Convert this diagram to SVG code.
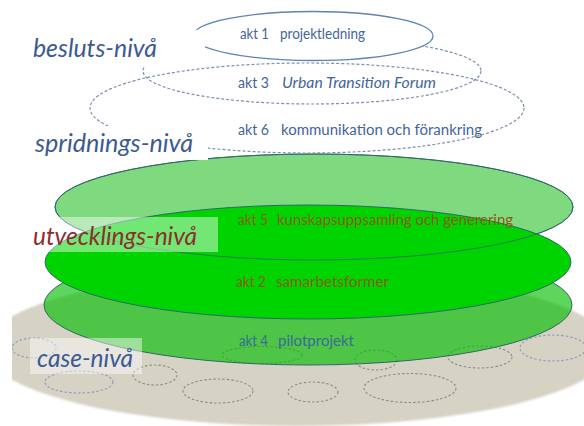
<svg xmlns="http://www.w3.org/2000/svg" width="584" height="426" viewBox="0 0 584 426">
<style>
.lvl{font-family:Lato,"Liberation Sans",sans-serif;font-style:italic;font-size:25px;fill:#3b5a94}
.akt{font-family:Lato,"Liberation Sans",sans-serif;font-size:14.5px}
.blue{fill:#44659c}
.brown{fill:#8a5c12}
.teal{fill:#3a6a96}
.dash{fill:none;stroke:#7d8fae;stroke-width:1.2;stroke-dasharray:3 2}
.small{fill:none;stroke-width:1.1;stroke-dasharray:2.5 2}
.sb{stroke:#8a9cc0}
.sg{stroke:#8c8c90}
.gline{stroke:#2f6868;stroke-width:1}
</style>
<defs>
<clipPath id="clipL"><rect x="12" y="0" width="600" height="426"/></clipPath>
<filter id="soft" x="-5%" y="-5%" width="110%" height="110%"><feGaussianBlur stdDeviation="1"/></filter>
</defs>
<rect width="584" height="426" fill="#ffffff"/>

<g id="case-base" clip-path="url(#clipL)">
<ellipse cx="298" cy="348" rx="313" ry="78" fill="#d6d2c4" filter="url(#soft)"/>
<ellipse class="small sb" cx="34" cy="348" rx="22" ry="10"/>
<ellipse class="small sb" cx="79" cy="382" rx="34" ry="11"/>
<ellipse class="small sg" cx="155" cy="375" rx="22" ry="10"/>
<ellipse class="small sg" cx="218" cy="391" rx="35" ry="12"/>
<ellipse class="small sg" cx="262" cy="355" rx="40" ry="8.5"/>
<ellipse class="small sg" cx="313" cy="392" rx="25" ry="10"/>
<ellipse class="small sg" cx="376" cy="360" rx="21" ry="10"/>
<ellipse class="small sg" cx="410" cy="388" rx="46" ry="14.5"/>
<ellipse class="small sg" cx="480" cy="357" rx="32" ry="11"/>
<ellipse class="small sb" cx="553" cy="348" rx="33" ry="13"/>
</g>

<g id="akt4">
<ellipse class="gline" cx="308" cy="305" rx="264" ry="60" fill="#00be00" fill-opacity="0.63"/>
<text class="akt teal" x="239" y="346" textLength="29" lengthAdjust="spacingAndGlyphs">akt 4</text>
<text class="akt teal" x="278" y="346" textLength="76" lengthAdjust="spacingAndGlyphs">pilotprojekt</text>
</g>

<g id="akt5-disc">
<ellipse class="gline" cx="314" cy="207" rx="259" ry="53" fill="#7fd97f"/>
</g>

<g id="akt2">
<ellipse class="gline" cx="308" cy="262" rx="263" ry="57" fill="#00d400"/>
<text class="akt brown" x="236" y="287" textLength="30" lengthAdjust="spacingAndGlyphs">akt 2</text>
<text class="akt brown" x="276" y="287" textLength="113" lengthAdjust="spacingAndGlyphs">samarbetsformer</text>
</g>

<g id="akt5">
<ellipse class="gline" cx="314" cy="207" rx="259" ry="53" fill="none" stroke-opacity="0.8"/>
<text class="akt brown" x="238" y="225" textLength="30" lengthAdjust="spacingAndGlyphs">akt 5</text>
<text class="akt brown" x="277" y="225" textLength="236" lengthAdjust="spacingAndGlyphs">kunskapsuppsamling och generering</text>
</g>

<g id="akt6">
<ellipse class="dash" cx="307" cy="108" rx="217" ry="45" fill="#ffffff"/>
<text class="akt blue" x="238" y="135" textLength="31" lengthAdjust="spacingAndGlyphs">akt 6</text>
<text class="akt blue" x="281" y="135" textLength="201" lengthAdjust="spacingAndGlyphs">kommunikation och förankring</text>
</g>

<g id="akt3">
<ellipse class="dash" cx="312" cy="71" rx="169" ry="33" fill="#ffffff"/>
<text class="akt blue" x="238" y="88" textLength="31" lengthAdjust="spacingAndGlyphs">akt 3</text>
<text class="akt blue" x="282" y="88" font-style="italic" textLength="154" lengthAdjust="spacingAndGlyphs">Urban Transition Forum</text>
</g>

<g id="akt1">
<ellipse cx="313" cy="36" rx="120" ry="24.5" fill="#ffffff" stroke="#5f82b8" stroke-width="1.3"/>
<text class="akt blue" x="240" y="39" textLength="29" lengthAdjust="spacingAndGlyphs">akt 1</text>
<text class="akt blue" x="280" y="39" textLength="85" lengthAdjust="spacingAndGlyphs">projektledning</text>
</g>

<g id="label-besluts">
<rect x="25" y="30" width="180" height="37" fill="#ffffff"/>
<text class="lvl" x="33" y="57" textLength="124" lengthAdjust="spacingAndGlyphs">besluts-nivå</text>
</g>
<g id="label-spridnings">
<rect x="25" y="126" width="183" height="34" fill="#ffffff"/>
<text class="lvl" x="35" y="152" textLength="158" lengthAdjust="spacingAndGlyphs">spridnings-nivå</text>
</g>
<g id="label-utvecklings">
<rect x="28" y="217" width="190" height="35" fill="#ffffff" fill-opacity="0.45"/>
<text class="lvl" x="33" y="245" style="fill:#8b2e2e" textLength="164" lengthAdjust="spacingAndGlyphs">utvecklings-nivå</text>
</g>
<g id="label-case">
<rect x="30" y="338" width="112" height="36" fill="#ffffff" fill-opacity="0.45"/>
<text class="lvl" x="37" y="367" textLength="96" lengthAdjust="spacingAndGlyphs">case-nivå</text>
</g>
</svg>
